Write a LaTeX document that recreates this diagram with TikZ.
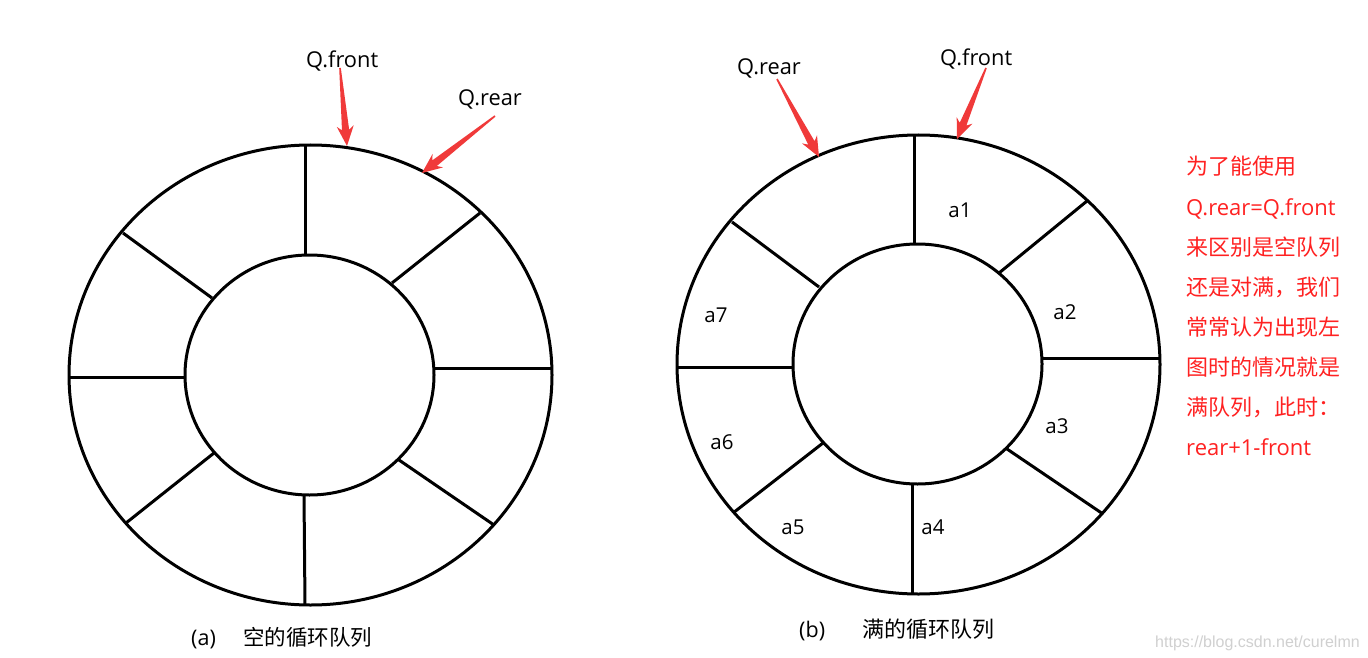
\documentclass[tikz,border=0pt]{standalone}
\usepackage{fontspec}
\setmainfont{Open Sans}
\newfontfamily\cjk{Noto Sans CJK SC}
\newfontfamily\wmfont{Liberation Sans}
\usetikzlibrary{calc}
\definecolor{arrowred}{RGB}{240,58,58}
\definecolor{txtred}{RGB}{255,34,34}
\definecolor{wmgray}{RGB}{208,208,208}
\newcommand\blockarrow[3]{%
  \coordinate (#3h) at ($(#2)!20pt!(#1)$);
  \coordinate (#3s) at ($(#2)!16pt!(#1)$);
  \fill[arrowred] ($(#1)!0.8pt!90:(#2)$) -- ($(#3s)!3.6pt!90:(#2)$) -- ($(#3h)!8.5pt!90:(#2)$) -- (#2)
    -- ($(#3h)!8.5pt!-90:(#2)$) -- ($(#3s)!3.6pt!-90:(#2)$) -- ($(#1)!0.8pt!-90:(#2)$) -- cycle;
}
\begin{document}
\begin{tikzpicture}[x=1pt,y=-1pt,
  ringline/.style={line width=3pt, black},
  qlab/.style={font=\fontsize{21.8}{21.8}\selectfont, inner sep=0pt, anchor=base west},
  alab/.style={font=\fontsize{20.5}{20.5}\selectfont, inner sep=0pt},
  redline/.style={font=\fontsize{22}{22}\selectfont, text=txtred, inner sep=0pt, anchor=base west},
  captext/.style={font=\fontsize{21.5}{21.5}\selectfont, inner sep=0pt, anchor=base west},
  wm/.style={font=\wmfont\fontsize{16}{16}\selectfont, text=wmgray, inner sep=0pt, anchor=base west}]
\useasboundingbox[fill=white] (0,0) rectangle (1368,658);

% ---------- left ring (a) ----------
\draw[ringline] (310.5,375) ellipse [x radius=241.5, y radius=230];
\draw[ringline] (309.5,375) ellipse [x radius=124.5, y radius=120];
\draw[ringline] (305,145) -- (305,255);
\draw[ringline] (480,213) -- (392,283);
\draw[ringline] (435,368) -- (552,368);
\draw[ringline] (399,460) -- (494,525);
\draw[ringline] (304,495) -- (305,605);
\draw[ringline] (214,453) -- (126,523);
\draw[ringline] (69,377) -- (185,377);
\draw[ringline] (123,233) -- (212,298);

% ---------- right ring (b) ----------
\draw[ringline] (918.5,364.5) ellipse [x radius=241.5, y radius=229.5];
\draw[ringline] (917.5,364) ellipse [x radius=124.5, y radius=120];
\draw[ringline] (914,135) -- (914,244);
\draw[ringline] (1087,201) -- (999,273);
\draw[ringline] (1042,358) -- (1160,358);
\draw[ringline] (1007,449) -- (1103,514);
\draw[ringline] (912,484) -- (912,594);
\draw[ringline] (823,443) -- (733,513);
\draw[ringline] (677,367) -- (793,367);
\draw[ringline] (732,222) -- (819,287);

% ---------- element labels ----------
\node[alab] (a1) at (960,210) {a1};
\node[alab] (a2) at (1065,312) {a2};
\node[alab] (a3) at (1057,426) {a3};
\node[alab] (a4) at (933,527) {a4};
\node[alab] (a5) at (793,527) {a5};
\node[alab] (a6) at (722,442) {a6};
\node[alab] (a7) at (716,315) {a7};

% ---------- pointer labels and arrows ----------
\node[qlab] (lfront) at (306,68) {Q.front};
\node[qlab] (lrear) at (458,106) {Q.rear};
\node[qlab] (rrear) at (737,75) {Q.rear};
\node[qlab] (rfront) at (940,66) {Q.front};

\coordinate (lfrontT) at (340,68);
\coordinate (lfrontP) at (347,146);
\coordinate (lrearT) at (495,116);
\coordinate (lrearP) at (422,173);
\coordinate (rrearT) at (777,79);
\coordinate (rrearP) at (819,157);
\coordinate (rfrontT) at (986,68);
\coordinate (rfrontP) at (957,139);
\blockarrow{lfrontT}{lfrontP}{la}
\blockarrow{lrearT}{lrearP}{lb}
\blockarrow{rrearT}{rrearP}{ra}
\blockarrow{rfrontT}{rfrontP}{rb}

% ---------- red explanation ----------
\node[redline] (r1) at (1186,175) {\cjk 为了能使用};
\node[redline] (r2) at (1186,215) {Q.rear=Q.front};
\node[redline] (r3) at (1186,255) {\cjk 来区别是空队列};
\node[redline] (r4) at (1186,295) {\cjk 还是对满，我们};
\node[redline] (r5) at (1186,335) {\cjk 常常认为出现左};
\node[redline] (r6) at (1186,375) {\cjk 图时的情况就是};
\node[redline] (r7) at (1186,415) {\cjk 满队列，此时：};
\node[redline] (r8) at (1186,455) {rear+1-front};

% ---------- captions ----------
\node[captext] (capa) at (191,645) {(a)};
\node[captext] (capat) at (243,645) {\cjk 空的循环队列};
\node[captext] (capb) at (799,637) {(b)};
\node[captext, font=\fontsize{22}{22}\selectfont] (capbt) at (862,637) {\cjk 满的循环队列};
\node[wm] (wmark) at (1155,647) {https://blog.csdn.net/curelmn};
\end{tikzpicture}
\end{document}
